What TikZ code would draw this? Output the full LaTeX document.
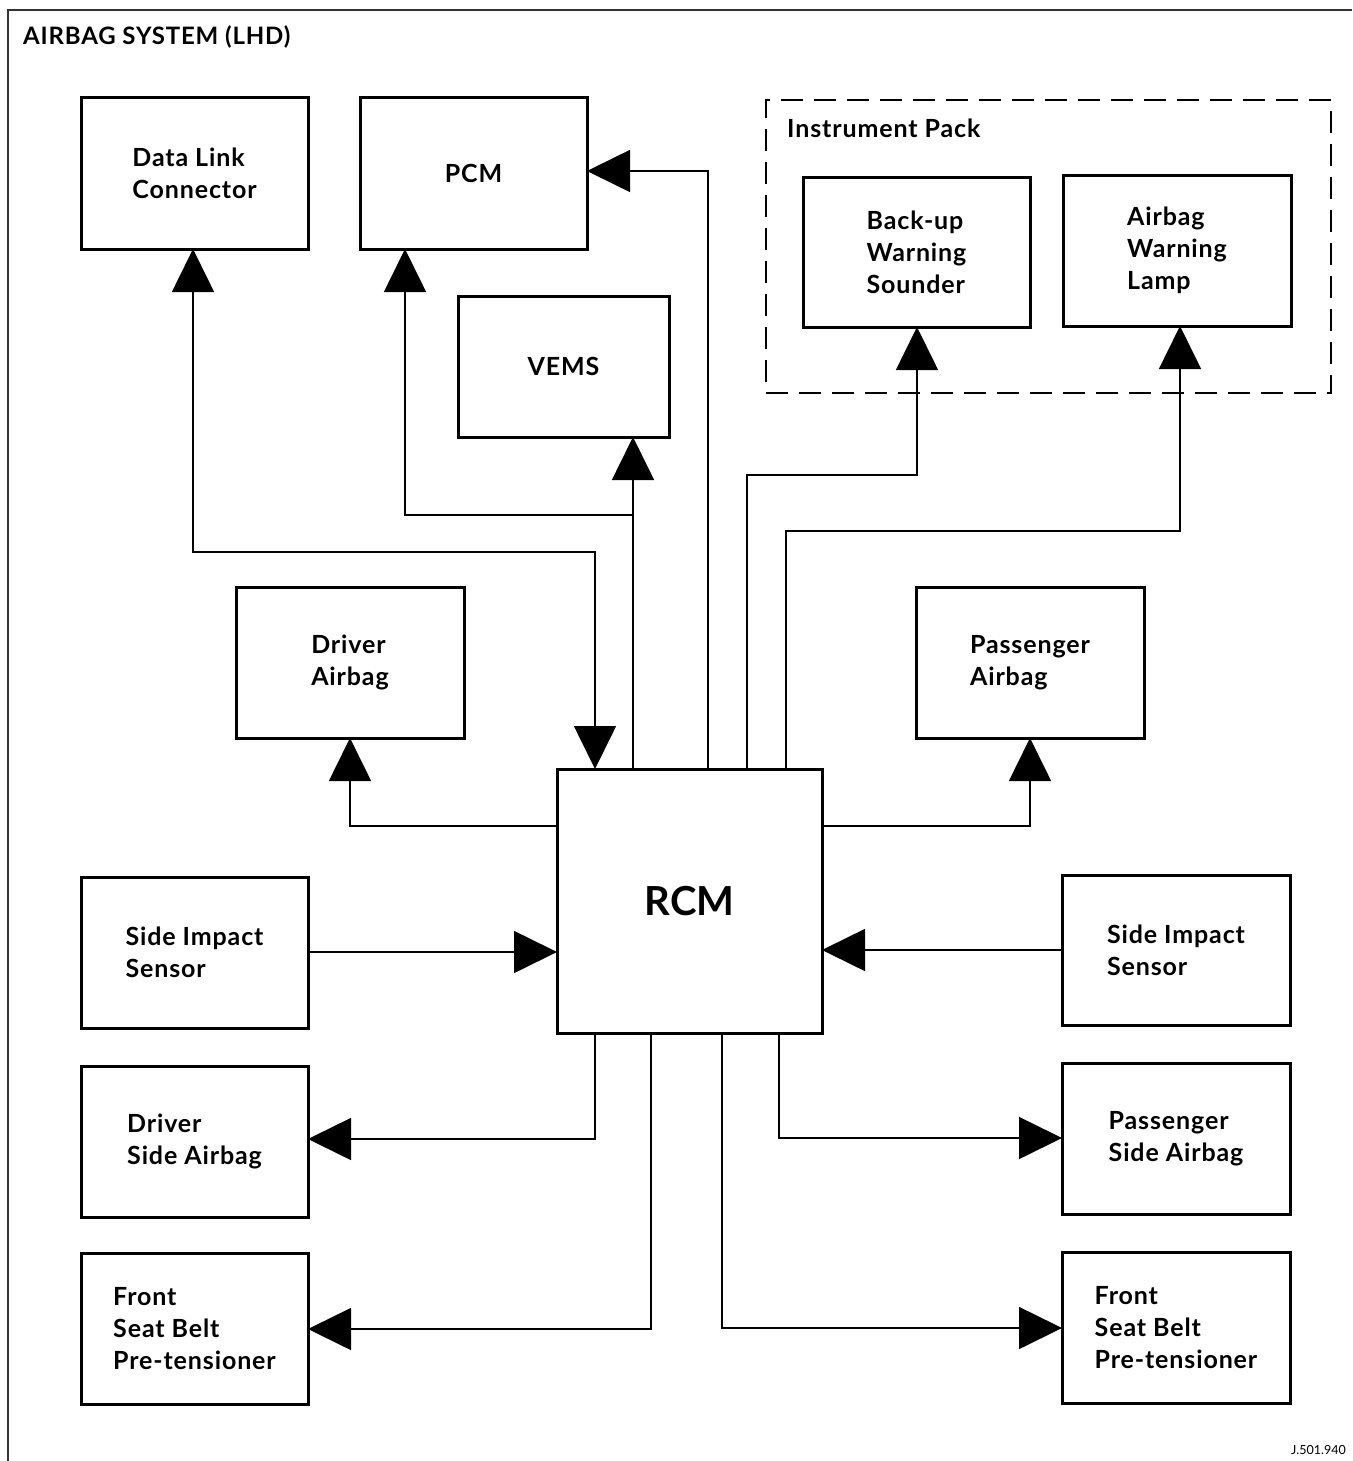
\documentclass[tikz,border=0pt]{standalone}
\usepackage{fontspec}
\setmainfont{Lato}
\newfontfamily\widelato{Lato}[LetterSpace=3.5]
\usetikzlibrary{arrows.meta}
\begin{document}
\begin{tikzpicture}[x=1pt,y=-1pt,
  box/.style={draw, line width=3pt, inner sep=0pt, outer sep=0pt, align=left,
    font=\widelato\fontsize{25}{32}\selectfont\bfseries},
  conn/.style={line width=1.6pt},
  arr/.style={conn, -{Triangle[width=42pt,length=43pt]}},
  dbl/.style={conn, {Triangle[width=42pt,length=43pt]}-{Triangle[width=42pt,length=43pt]}},
  lbl/.style={inner sep=0pt, font=\widelato\fontsize{25}{32}\selectfont\bfseries}]
\useasboundingbox (0,0) rectangle (1352,1461);
% frame
\draw[line width=1.6pt, black!80] (1352,10) -- (8,10) -- (8,1461);
\node[lbl, anchor=base west, font=\widelato\fontsize{24}{30}\selectfont\bfseries] (title) at (23,45) {AIRBAG SYSTEM (LHD)};
% instrument pack
\node[draw, line width=1.8pt, dash pattern=on 22pt off 11pt, inner sep=0pt, outer sep=0pt,
  minimum width=565pt, minimum height=293pt] (ip) at (1048.5,246.5) {};
\node[lbl, anchor=base west] (iplbl) at (787,138) {Instrument Pack};
% boxes
\node[box, minimum width=227pt, minimum height=151pt] (dlc) at (194.5,173.5) {Data Link\\Connector};
\node[box, minimum width=227pt, minimum height=151pt] (pcm) at (473.5,173.5) {PCM};
\node[box, minimum width=211pt, minimum height=141pt] (vems) at (563.5,366.5) {VEMS};
\node[box, minimum width=227pt, minimum height=150pt] (bws) at (916.5,252) {Back-up\\Warning\\Sounder};
\node[box, minimum width=228pt, minimum height=151pt] (awl) at (1177,250.5) {Airbag\\Warning\\Lamp};
\node[box, minimum width=228pt, minimum height=151pt] (dab) at (350,662.5) {Driver\\Airbag};
\node[box, minimum width=228pt, minimum height=151pt] (pab) at (1030,662.5) {Passenger\\Airbag};
\node[box, minimum width=265pt, minimum height=264pt, font=\fontsize{40}{48}\selectfont\bfseries] (rcm) at (689.5,901) {RCM};
\node[box, minimum width=227pt, minimum height=151pt] (sisl) at (194.5,952.5) {Side Impact\\Sensor};
\node[box, minimum width=228pt, minimum height=150pt] (sisr) at (1176,950) {Side Impact\\Sensor};
\node[box, minimum width=227pt, minimum height=151pt] (dsa) at (194.5,1141.5) {Driver\\Side Airbag};
\node[box, minimum width=228pt, minimum height=151pt] (psa) at (1176,1138.5) {Passenger\\Side Airbag};
\node[box, minimum width=227pt, minimum height=151pt] (fsl) at (194.5,1328.5) {Front\\Seat Belt\\Pre-tensioner};
\node[box, minimum width=228pt, minimum height=151pt] (fsr) at (1176,1327.5) {Front\\Seat Belt\\Pre-tensioner};
% bend coordinates
\coordinate (c1) at (595,552);
\coordinate (c1b) at (193,552);
\coordinate (c2) at (633,515);
\coordinate (c2b) at (405,515);
\coordinate (c3) at (708,171);
\coordinate (c4) at (747,475);
\coordinate (c4b) at (917,475);
\coordinate (c5) at (786,531);
\coordinate (c5b) at (1180,531);
\coordinate (c6) at (350,826);
\coordinate (c7) at (1030,826);
\coordinate (c8) at (0,952);
\coordinate (c9) at (0,950);
\coordinate (c10) at (595,1139);
\coordinate (c11) at (779,1138);
\coordinate (c12) at (651,1329);
\coordinate (c13) at (722,1328);
% connectors
\draw[dbl] (c1b |- dlc.south) -- (c1b) -- (c1) -- (c1 |- rcm.north);
\draw[arr] (c2 |- rcm.north) -- (c2 |- vems.south);
\draw[arr] (c2) -- (c2b) -- (c2b |- pcm.south);
\draw[arr] (c3 |- rcm.north) -- (c3) -- (c3 -| pcm.east);
\draw[arr] (c4 |- rcm.north) -- (c4) -- (c4b) -- (c4b |- bws.south);
\draw[arr] (c5 |- rcm.north) -- (c5) -- (c5b) -- (c5b |- awl.south);
\draw[arr] (c6 -| rcm.west) -- (c6) -- (c6 |- dab.south);
\draw[arr] (c7 -| rcm.east) -- (c7) -- (c7 |- pab.south);
\draw[arr] (c8 -| sisl.east) -- (c8 -| rcm.west);
\draw[arr] (c9 -| sisr.west) -- (c9 -| rcm.east);
\draw[arr] (c10 |- rcm.south) -- (c10) -- (c10 -| dsa.east);
\draw[arr] (c11 |- rcm.south) -- (c11) -- (c11 -| psa.west);
\draw[arr] (c12 |- rcm.south) -- (c12) -- (c12 -| fsl.east);
\draw[arr] (c13 |- rcm.south) -- (c13) -- (c13 -| fsr.west);
% reference number
\node[inner sep=0pt, anchor=base east, font=\fontsize{12.5}{15}\selectfont] (ref) at (1346,1454) {J.501.940};
\end{tikzpicture}
\end{document}
